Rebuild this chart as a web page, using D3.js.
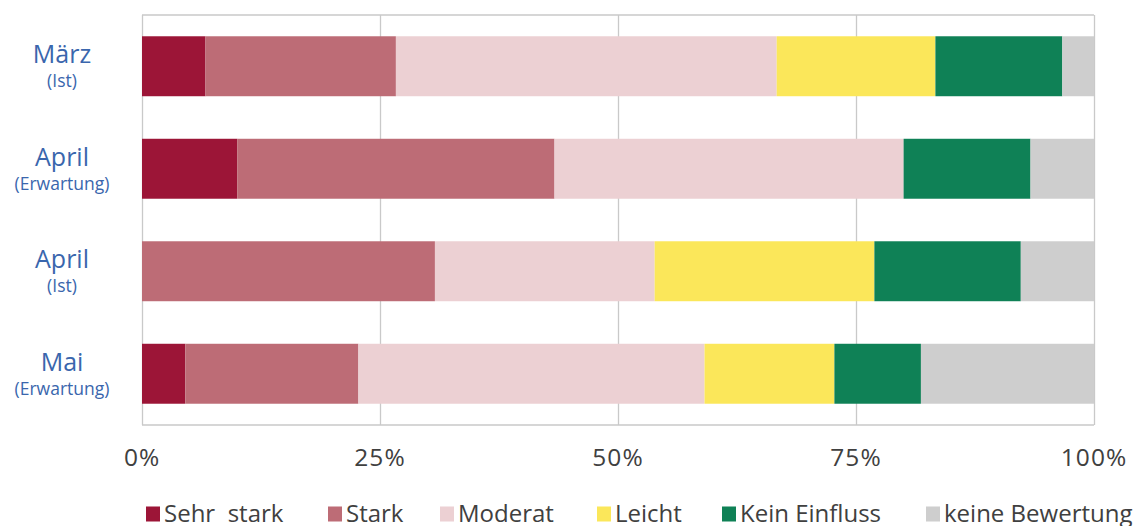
<!DOCTYPE html>
<html>
<head>
<meta charset="utf-8">
<script src="https://cdn.jsdelivr.net/npm/d3@7"></script>
<style>
  body { margin: 0; background: #fff; }
  svg { font-family: "Open Sans", "Noto Sans", sans-serif; }
  .tick-label { fill: #404040; font-size: 24.5px; letter-spacing: 1px; }
  .legend-label { fill: #404040; font-size: 24px; }
  .cat-main { fill: #3a66ad; font-size: 25px; }
  .cat-sub { fill: #3a66ad; font-size: 17.5px; }
</style>
</head>
<body>
<svg width="1143" height="526"></svg>
<script>
const categories = ["März", "April", "April", "Mai"]
const subLabels = ["(Ist)", "(Erwartung)", "(Ist)", "(Erwartung)"]
const seriesNames = ["Sehr  stark", "Stark", "Moderat", "Leicht", "Kein Einfluss", "keine Bewertung"]
const seriesColors = ["#9c1537", "#bd6c76", "#ecd0d3", "#fbe75a", "#0f8156", "#cecece"]
const sehrStark = [6.67, 10.0, 0, 4.55]
const stark = [20.0, 33.33, 30.77, 18.18]
const moderat = [40.0, 36.67, 23.08, 36.36]
const leicht = [16.67, 0, 23.08, 13.64]
const keinEinfluss = [13.33, 13.33, 15.38, 9.09]
const keineBewertung = [3.33, 6.67, 7.69, 18.18]
const xTicks = [0, 25, 50, 75, 100]

const svg = d3.select("svg")
const margin = {top: 15, right: 49, bottom: 101, left: 142}
const width = +svg.attr("width")
const height = +svg.attr("height")
const innerWidth = width - margin.left - margin.right
const innerHeight = height - margin.top - margin.bottom

const seriesValues = [sehrStark, stark, moderat, leicht, keinEinfluss, keineBewertung]
const table = categories.map((c, i) => {
  const row = {idx: i}
  seriesNames.forEach((s, j) => { row[s] = seriesValues[j][i] })
  return row
})
const stacked = d3.stack().keys(seriesNames)(table)

const xScale = d3.scaleLinear().domain([0, 100]).range([0, innerWidth])
const yScale = d3.scaleBand()
  .domain(d3.range(categories.length))
  .range([0, innerHeight])
  .paddingInner(0.415)
  .paddingOuter(0.2075)

const g = svg.append("g")
  .attr("transform", `translate(${margin.left}, ${margin.top})`)

// gridlines
const xAxis = d3.axisBottom(xScale)
  .tickValues(xTicks)
  .tickSize(-innerHeight)
  .tickFormat("")
const xAxisG = g.append("g")
  .attr("transform", `translate(0, ${innerHeight})`)
  .call(xAxis)
xAxisG.select(".domain").remove()
xAxisG.selectAll(".tick line").attr("stroke", "#c9c9c9").attr("stroke-width", 1.3)

// frame top and bottom
g.append("line").attr("x1", 0).attr("x2", innerWidth).attr("y1", 0).attr("y2", 0)
  .attr("stroke", "#c9c9c9").attr("stroke-width", 1.3)
g.append("line").attr("x1", 0).attr("x2", innerWidth).attr("y1", innerHeight).attr("y2", innerHeight)
  .attr("stroke", "#c9c9c9").attr("stroke-width", 1.3)

// bars
g.selectAll(".series").data(stacked)
  .enter().append("g")
  .attr("class", "series")
  .attr("fill", (d, i) => seriesColors[i])
  .selectAll("rect").data(d => d)
  .enter().append("rect")
  .attr("x", d => xScale(d[0]))
  .attr("width", d => xScale(d[1]) - xScale(d[0]))
  .attr("y", d => yScale(d.data.idx))
  .attr("height", yScale.bandwidth())

// tick labels
g.selectAll(".tick-label").data(xTicks)
  .enter().append("text")
  .attr("class", "tick-label")
  .attr("x", d => xScale(d))
  .attr("y", innerHeight + 41)
  .attr("text-anchor", "middle")
  .text(d => d + "%")

// category labels
const catG = g.selectAll(".cat").data(categories)
  .enter().append("g")
  .attr("class", "cat")
  .attr("transform", (d, i) => `translate(-80, ${yScale(i) + yScale.bandwidth() / 2})`)
catG.append("text")
  .attr("class", "cat-main")
  .attr("text-anchor", "middle")
  .attr("y", -3)
  .text(d => d)
catG.append("text")
  .attr("class", "cat-sub")
  .attr("text-anchor", "middle")
  .attr("y", 21)
  .text((d, i) => subLabels[i])

// legend
const legendX = [146, 328, 440, 597, 722, 926]
const legend = svg.append("g")
  .attr("transform", `translate(0, 514)`)
const items = legend.selectAll(".item").data(seriesNames)
  .enter().append("g")
  .attr("class", "item")
  .attr("transform", (d, i) => `translate(${legendX[i]}, 0)`)
items.append("rect")
  .attr("y", -7.5)
  .attr("width", 14)
  .attr("height", 15)
  .attr("fill", (d, i) => seriesColors[i])
items.append("text")
  .attr("class", "legend-label")
  .attr("x", 18)
  .attr("y", 8)
  .attr("xml:space", "preserve")
  .style("white-space", "pre")
  .text(d => d)
</script>
</body>
</html>
